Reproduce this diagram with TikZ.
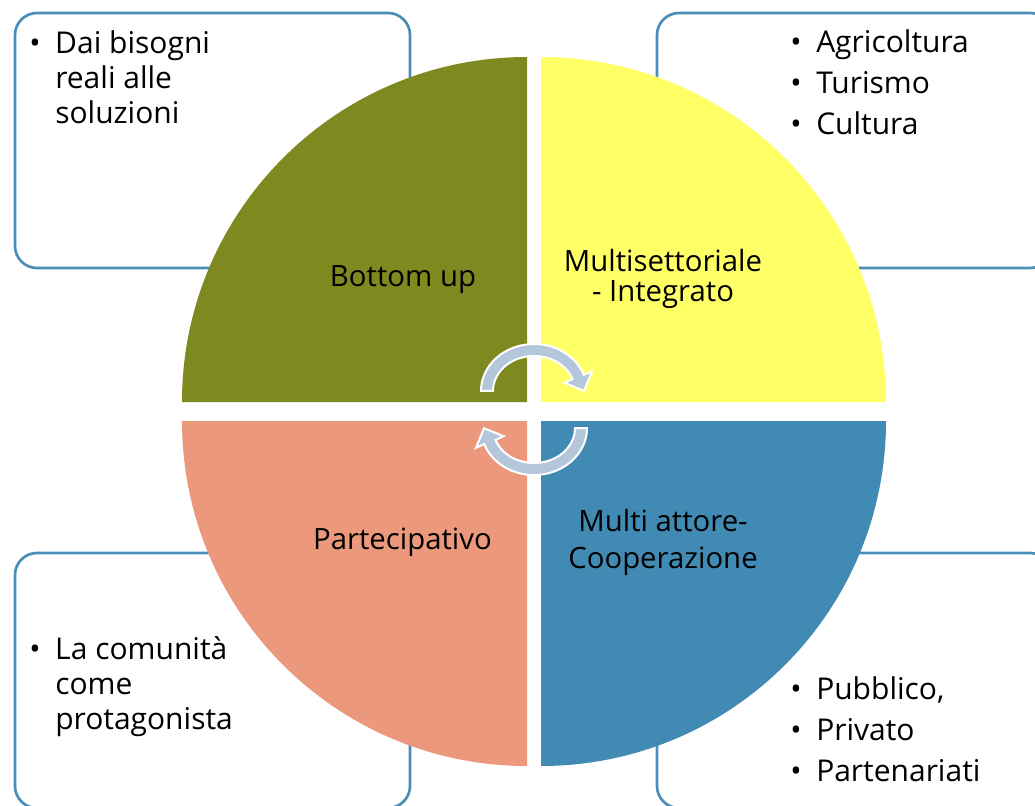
\documentclass[tikz,border=0pt]{standalone}
\usepackage{fontspec}
\setmainfont{Open Sans}
\usepackage{tikz}
\definecolor{quadolive}{HTML}{7E891F}
\definecolor{quadyellow}{HTML}{FFFF66}
\definecolor{quadsalmon}{HTML}{EB987C}
\definecolor{quadblue}{HTML}{418AB3}
\definecolor{boxline}{HTML}{4A8DB8}
\definecolor{arrowfill}{HTML}{B4C7DA}
\newcommand{\bulletmark}{\llap{\textbullet\hspace{11pt}}}

\begin{document}
\begin{tikzpicture}[x=0.75pt,y=-0.75pt,
				infobox/.style={draw=boxline,line width=2pt,rounded corners=16.5pt},
				quadtext/.style={font=\fontsize{22}{22.5}\selectfont,align=center,inner sep=0pt,anchor=base},
				boxtext/.style={font=\fontsize{22.5}{26.25}\selectfont,align=left,inner sep=0pt,anchor=base west},
				cyclearrow/.style={fill=arrowfill,draw=white,line width=1.5pt}
				]
				\useasboundingbox (0,0) rectangle (1035,806);
				\clip (0,0) rectangle (1035,806);
				% side boxes
				\draw[infobox] (15,13) rectangle (410,268);
				\draw[infobox] (657,13) rectangle (1052,268);
				\draw[infobox] (15,553) rectangle (410,808);
				\draw[infobox] (657,553) rectangle (1052,808);
				% quarters of the circle
				\fill[quadolive] (527,402) -- (182,402) arc[start angle=180,end angle=270,radius=345] -- cycle;
				\fill[quadyellow] (541,402) -- (541,57) arc[start angle=270,end angle=360,radius=345] -- cycle;
				\fill[quadblue] (541,421) -- (886,421) arc[start angle=0,end angle=90,radius=345] -- cycle;
				\fill[quadsalmon] (527,421) -- (527,766) arc[start angle=90,end angle=180,radius=345] -- cycle;
				% cycle arrows
				\filldraw[cyclearrow] (481,391) arc[start angle=180,end angle=340,x radius=53,y radius=47]
					-- (592,371.2) -- (584,390.8) -- (564.4,382.8)
					-- (572.5,379) arc[start angle=340,end angle=180,x radius=41,y radius=35] -- cycle;
				\filldraw[cyclearrow] (587,428) arc[start angle=0,end angle=160,x radius=53,y radius=47]
					-- (476,447.8) -- (484,428.2) -- (503.6,436.2)
					-- (495.5,440) arc[start angle=160,end angle=0,x radius=41,y radius=35] -- cycle;
				% labels (base = last line)
				\node[quadtext] (bottomup) at (403,286.7) {Bottom up};
				\node[quadtext] (multisett) at (663,301.7) {Multisettoriale\\- Integrato};
				\node[quadtext] (partecip) at (402.5,549.3) {Partecipativo};
				\node[quadtext] (multiatt) at (663,568) {Multi attore-\\[5.25pt]Cooperazione};
				\node[boxtext] (bisogni) at (55,123.5) {\bulletmark Dai bisogni\\reali alle\\soluzioni};
				\node[boxtext] (settori) at (816,135) {\bulletmark Agricoltura\\[4.5pt]\bulletmark Turismo\\[4.5pt]\bulletmark Cultura};
				\node[boxtext] (comunita) at (55,729.3) {\bulletmark La comunità\\come\\protagonista};
				\node[boxtext] (attori) at (816,781.5) {\bulletmark Pubblico,\\[4.5pt]\bulletmark Privato\\[4.5pt]\bulletmark Partenariati};
\end{tikzpicture}
\end{document}
